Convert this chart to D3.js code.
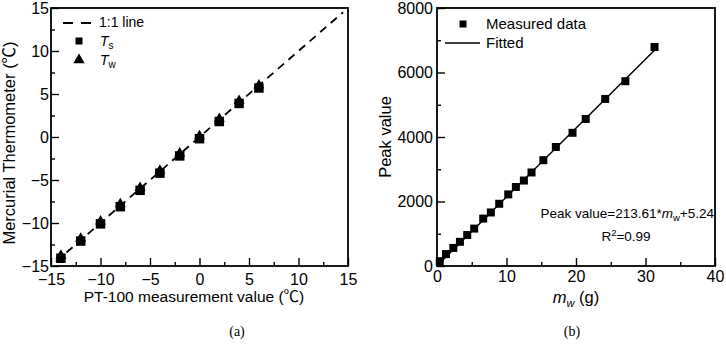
<!DOCTYPE html>
<html><head><meta charset="utf-8">
<script src="https://cdn.jsdelivr.net/npm/d3@7"></script>
<style>
body{margin:0;background:#fff;}
text{font-family:"Liberation Sans",Arial,"Noto Sans CJK SC",sans-serif;fill:#000;}
.serif{font-family:"Liberation Serif","Times New Roman",serif;}
</style></head>
<body><svg id="c" width="726" height="344"></svg>
<script>
// ---- Panel (a) data ----
const pt100 = [-14, -12, -10, -8, -6, -4, -2, 0, 2, 4, 6];
const Ts = [-14.1, -12.1, -10.1, -8.1, -6.2, -4.2, -2.2, -0.2, 1.8, 3.9, 5.7];
const Tw = [-13.8, -11.8, -9.8, -7.8, -5.9, -3.9, -1.9, 0.1, 2.1, 4.2, 6.0];
const oneToOne = [-14.5, 14.5];
const aTicks = [-15, -10, -5, 0, 5, 10, 15];
const aMinor = [-12.5, -7.5, -2.5, 2.5, 7.5, 12.5];

// ---- Panel (b) data ----
const mw = [0.4, 1.3, 2.35, 3.3, 4.35, 5.35, 6.65, 7.75, 8.95, 10.25, 11.35, 12.5, 13.6, 15.3, 17.1, 19.5, 21.4, 24.2, 27.1, 31.3];
const peak = [150, 370, 560, 750, 960, 1160, 1470, 1660, 1930, 2220, 2450, 2650, 2900, 3280, 3690, 4130, 4560, 5180, 5730, 6790];
const fitSlope = 213.61, fitIntercept = 5.24;
const fitRange = [0.4, 31.3];
const bxTicks = [0, 10, 20, 30, 40];
const bxMinor = [5, 15, 25, 35];
const byTicks = [0, 2000, 4000, 6000, 8000];
const byMinor = [1000, 3000, 5000, 7000];

const svg = d3.select("#c");
const fmt = d3.format("d");

function frame(g, x, y, xt, xm, yt, ym, tickFont, xpad, ypad) {
  const [x0, x1] = x.range(), [y0, y1] = y.range();
  const xa = g.append("g").attr("transform", `translate(0,${y0})`)
    .call(d3.axisBottom(x).tickValues(xt).tickFormat(fmt).tickSizeInner(-8).tickSizeOuter(0).tickPadding(xpad));
  const xm_ = g.append("g").attr("transform", `translate(0,${y0})`)
    .call(d3.axisBottom(x).tickValues(xm).tickSizeInner(-4).tickSizeOuter(0).tickFormat(""));
  const ya = g.append("g").attr("transform", `translate(${x0},0)`)
    .call(d3.axisLeft(y).tickValues(yt).tickFormat(fmt).tickSizeInner(-8).tickSizeOuter(0).tickPadding(ypad));
  const ym_ = g.append("g").attr("transform", `translate(${x0},0)`)
    .call(d3.axisLeft(y).tickValues(ym).tickSizeInner(-4).tickSizeOuter(0).tickFormat(""));
  [xa, xm_, ya, ym_].forEach(a => {
    a.select(".domain").remove();
    a.selectAll("line").attr("stroke", "#000").attr("stroke-width", 1.4);
    a.selectAll("text").style("font-size", tickFont + "px").attr("fill", "#000");
  });
  g.append("rect").attr("x", x0).attr("y", y1).attr("width", x1 - x0).attr("height", y0 - y1)
    .attr("fill", "none").attr("stroke", "#000").attr("stroke-width", 1.8);
}

// ===== Panel (a) =====
const xa = d3.scaleLinear().domain([-15, 15]).range([51, 348]);
const ya = d3.scaleLinear().domain([-15, 15]).range([266, 8]);
const ga = svg.append("g");
frame(ga, xa, ya, aTicks, aMinor, aTicks, aMinor, 16, 8, 2);

ga.append("line")
  .attr("x1", xa(oneToOne[0])).attr("y1", ya(oneToOne[0]))
  .attr("x2", xa(oneToOne[1])).attr("y2", ya(oneToOne[1]))
  .attr("stroke", "#000").attr("stroke-width", 1.8).attr("stroke-dasharray", "8,6");

const tri = d3.symbol().type(d3.symbolTriangle).size(52);
const sq = d3.symbol().type(d3.symbolSquare).size(90);
ga.selectAll(".ts").data(pt100).join("path").attr("class", "ts")
  .attr("transform", (d, i) => `translate(${xa(d)},${ya(Ts[i])})`).attr("d", sq).attr("fill", "#000");
ga.selectAll(".tw").data(pt100).join("path").attr("class", "tw")
  .attr("transform", (d, i) => `translate(${xa(d)},${ya(Tw[i])})`).attr("d", tri).attr("fill", "#000");

// legend (a)
ga.append("line").attr("x1", 63).attr("x2", 92).attr("y1", 23).attr("y2", 23)
  .attr("stroke", "#000").attr("stroke-width", 1.8).attr("stroke-dasharray", "10,8");
ga.append("text").attr("x", 99).attr("y", 27).style("font-size", "14px").text("1:1 line");
ga.append("path").attr("transform", "translate(79,41)").attr("d", d3.symbol().type(d3.symbolSquare).size(49)).attr("fill", "#000");
ga.append("path").attr("transform", "translate(79,60)").attr("d", d3.symbol().type(d3.symbolTriangle).size(55)).attr("fill", "#000");
const ts = ga.append("text").attr("x", 100).attr("y", 46).style("font-size", "14px");
ts.append("tspan").style("font-style", "italic").text("T");
ts.append("tspan").attr("dy", 3).style("font-size", "10px").text("s");
const tw = ga.append("text").attr("x", 100).attr("y", 65).style("font-size", "14px");
tw.append("tspan").style("font-style", "italic").text("T");
tw.append("tspan").attr("dy", 3).style("font-size", "10px").text("w");

ga.append("text").attr("x", 194).attr("y", 302).attr("text-anchor", "middle").style("font-size", "15.5px")
  .text("PT-100 measurement value (℃)");
ga.append("text").attr("transform", "translate(15,143) rotate(-90)").attr("text-anchor", "middle").style("font-size", "16.5px")
  .text("Mercurial Thermometer (℃)");
ga.append("text").attr("class", "serif").attr("x", 237).attr("y", 336).attr("text-anchor", "middle").style("font-size", "14px").text("(a)");

// ===== Panel (b) =====
const xb = d3.scaleLinear().domain([0, 40]).range([437, 715]);
const yb = d3.scaleLinear().domain([0, 8000]).range([266, 8]);
const gb = svg.append("g");
frame(gb, xb, yb, bxTicks, bxMinor, byTicks, byMinor, 16, 5, 4);

gb.append("line")
  .attr("x1", xb(fitRange[0])).attr("y1", yb(fitSlope * fitRange[0] + fitIntercept))
  .attr("x2", xb(fitRange[1])).attr("y2", yb(fitSlope * fitRange[1] + fitIntercept))
  .attr("stroke", "#000").attr("stroke-width", 1.5);
const sqb = d3.symbol().type(d3.symbolSquare).size(64);
gb.selectAll(".md").data(mw).join("path").attr("class", "md")
  .attr("transform", (d, i) => `translate(${xb(d)},${yb(peak[i])})`).attr("d", sqb).attr("fill", "#000");

// legend (b)
gb.append("path").attr("transform", "translate(463,24)").attr("d", d3.symbol().type(d3.symbolSquare).size(49)).attr("fill", "#000");
gb.append("text").attr("x", 486).attr("y", 29).style("font-size", "15px").text("Measured data");
gb.append("line").attr("x1", 445).attr("x2", 480).attr("y1", 43).attr("y2", 43).attr("stroke", "#000").attr("stroke-width", 1.5);
gb.append("text").attr("x", 486).attr("y", 48).style("font-size", "15px").text("Fitted");

const eq = gb.append("text").attr("x", 714).attr("y", 218).attr("text-anchor", "end").style("font-size", "13.5px");
eq.append("tspan").text("Peak value=213.61*");
eq.append("tspan").style("font-style", "italic").text("m");
eq.append("tspan").attr("dy", 3).style("font-size", "9.5px").text("w");
eq.append("tspan").attr("dy", -3).text("+5.24");
const r2 = gb.append("text").attr("x", 626).attr("y", 241).attr("text-anchor", "middle").style("font-size", "13.5px");
r2.append("tspan").text("R");
r2.append("tspan").attr("dy", -5).style("font-size", "9.5px").text("2");
r2.append("tspan").attr("dy", 5).text("=0.99");

const xt = gb.append("text").attr("x", 576).attr("y", 303).attr("text-anchor", "middle").style("font-size", "16.5px");
xt.append("tspan").style("font-style", "italic").text("m");
xt.append("tspan").attr("dy", 4).style("font-style", "italic").style("font-size", "11px").text("w");
xt.append("tspan").attr("dy", -4).text(" (g)");
gb.append("text").attr("transform", "translate(391,137) rotate(-90)").attr("text-anchor", "middle").style("font-size", "16.5px").text("Peak value");
gb.append("text").attr("class", "serif").attr("x", 572).attr("y", 336).attr("text-anchor", "middle").style("font-size", "14px").text("(b)");
</script></body></html>
